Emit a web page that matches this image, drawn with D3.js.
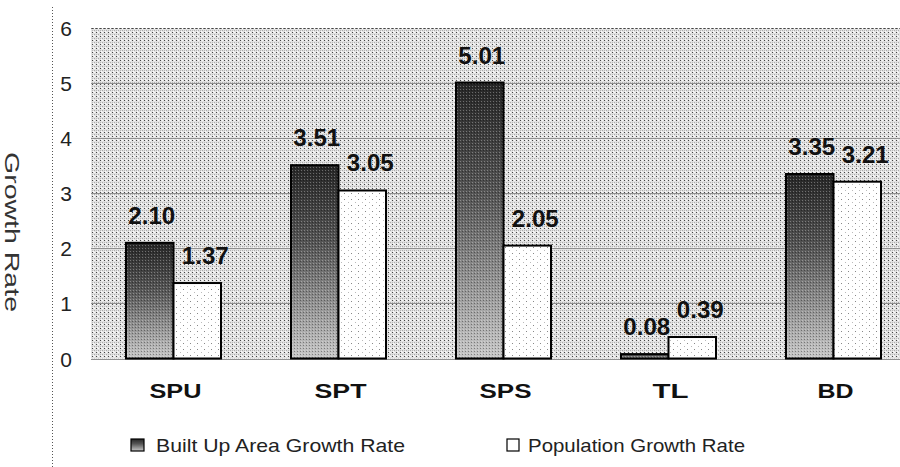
<!DOCTYPE html>
<html><head><meta charset="utf-8">
<script src="https://cdn.jsdelivr.net/npm/d3@7"></script>
<style>body{margin:0;background:#fff;} svg{display:block;font-family:"Liberation Sans",Arial,sans-serif;}</style>
</head><body>
<svg id="chart" width="900" height="467"></svg>
<script>
const categories = ["SPU","SPT","SPS","TL","BD"];
const builtUp = [2.10, 3.51, 5.01, 0.08, 3.35];
const population = [1.37, 3.05, 2.05, 0.39, 3.21];
const builtUpLabels = ["2.10","3.51","5.01","0.08","3.35"];
const populationLabels = ["1.37","3.05","2.05","0.39","3.21"];
const yTicks = [0,1,2,3,4,5,6];
const seriesNames = ["Built Up Area Growth Rate","Population Growth Rate"];

const svg = d3.select("#chart");
const defs = svg.append("defs");

// background stipple
const bg = defs.append("pattern").attr("id","bgpat").attr("width",4).attr("height",4).attr("patternUnits","userSpaceOnUse");
bg.append("rect").attr("width",4).attr("height",4).attr("fill","#e2e2e2");
bg.append("rect").attr("x",0).attr("y",0).attr("width",1).attr("height",1).attr("fill","#444");
bg.append("rect").attr("x",2).attr("y",2).attr("width",1).attr("height",1).attr("fill","#aaa");
bg.append("rect").attr("x",2).attr("y",0).attr("width",1).attr("height",1).attr("fill","#fafafa");
bg.append("rect").attr("x",1).attr("y",3).attr("width",1).attr("height",1).attr("fill","#fafafa");
bg.append("rect").attr("x",0).attr("y",2).attr("width",1).attr("height",1).attr("fill","#b8b8b8");

// dark bar gradient
const grad = defs.append("linearGradient").attr("id","darkgrad").attr("x1",0).attr("y1",0).attr("x2",0).attr("y2",1);
grad.append("stop").attr("offset","0%").attr("stop-color","#262626");
grad.append("stop").attr("offset","40%").attr("stop-color","#555");
grad.append("stop").attr("offset","100%").attr("stop-color","#c8c8c8");
const dk = defs.append("pattern").attr("id","darkpat").attr("width",3).attr("height",3).attr("patternUnits","userSpaceOnUse");
dk.append("rect").attr("x",0).attr("y",0).attr("width",1).attr("height",1).attr("fill","#000").attr("opacity",0.35);
dk.append("rect").attr("x",1).attr("y",2).attr("width",1).attr("height",1).attr("fill","#fff").attr("opacity",0.3);

// white bar sparse dots
const wp = defs.append("pattern").attr("id","whitepat").attr("width",7).attr("height",6).attr("patternUnits","userSpaceOnUse");
wp.append("rect").attr("width",7).attr("height",6).attr("fill","#fff");
wp.append("rect").attr("x",1).attr("y",1).attr("width",1).attr("height",1).attr("fill","#888");
wp.append("rect").attr("x",5).attr("y",4).attr("width",1).attr("height",1).attr("fill","#bbb");

const plotLeft = 91, plotTop = 28, plotBottom = 358.5;
const x = d3.scaleBand().domain(categories).range([plotLeft, plotLeft + 5*165]).padding(0);
const y = d3.scaleLinear().domain([0,6]).range([plotBottom, plotTop]);
const barW = 47.5;

// plot background
svg.append("rect").attr("x", plotLeft).attr("y", plotTop).attr("width", 900-plotLeft).attr("height", plotBottom-plotTop)
  .attr("fill","url(#bgpat)");

// gridlines
svg.append("g").selectAll("line").data(yTicks).join("line")
  .attr("x1", plotLeft).attr("x2", 900)
  .attr("y1", d => Math.round(y(d))+0.5).attr("y2", d => Math.round(y(d))+0.5)
  .attr("stroke", d => d===6 ? "#777" : "#909090").attr("stroke-width",1)
  .attr("stroke-dasharray", d => d===6 ? "1,1" : null);

// left dotted axis line
svg.append("line").attr("x1",52.5).attr("x2",52.5).attr("y1",7).attr("y2",467)
  .attr("stroke","#555").attr("stroke-dasharray","1,2");

// y tick labels via axis
const yAxis = d3.axisLeft(y).tickValues(yTicks).tickSize(0).tickPadding(0).tickFormat(d3.format("d"));
const ya = svg.append("g").attr("transform","translate(72,0)").call(yAxis);
ya.select(".domain").remove();
ya.selectAll("text").attr("font-size",21).attr("fill","#222").attr("font-family","'Liberation Sans',Arial,sans-serif")
  .attr("text-anchor","middle").attr("dx",-6).attr("dy","0.36em");

// y title
svg.append("text").attr("transform","translate(5,232) rotate(90)")
  .attr("text-anchor","middle").attr("font-size",21).attr("fill","#333")
  .attr("textLength",160).attr("lengthAdjust","spacingAndGlyphs")
  .text("Growth  Rate");

const cx = c => x(c) + x.bandwidth()/2;

// bars
const g = svg.append("g");
categories.forEach((c,i) => {
  const y0 = y(0);
  const yb = y(builtUp[i]);
  g.append("rect").attr("x", cx(c)-barW).attr("y", yb).attr("width", barW).attr("height", y0-yb)
    .attr("fill","url(#darkgrad)");
  g.append("rect").attr("x", cx(c)-barW).attr("y", yb).attr("width", barW).attr("height", y0-yb)
    .attr("fill","url(#darkpat)").attr("stroke","#000").attr("stroke-width",2);
  const yp = y(population[i]);
  g.append("rect").attr("x", cx(c)).attr("y", yp).attr("width", barW).attr("height", y0-yp)
    .attr("fill","url(#whitepat)").attr("stroke","#000").attr("stroke-width",2);
  g.append("text").attr("x", cx(c)-barW/2+2).attr("y", yb-19).attr("text-anchor","middle")
    .attr("font-size",23).attr("font-weight","bold").attr("fill","#111")
    .attr("textLength",47).attr("lengthAdjust","spacingAndGlyphs").text(builtUpLabels[i]);
  g.append("text").attr("x", cx(c)+barW/2+8).attr("y", yp-19).attr("text-anchor","middle")
    .attr("font-size",23).attr("font-weight","bold").attr("fill","#111")
    .attr("textLength",47).attr("lengthAdjust","spacingAndGlyphs").text(populationLabels[i]);
});

// category labels
const xAxis = d3.axisBottom(x).tickSize(0).tickPadding(0);
const xa = svg.append("g").attr("transform","translate(2,398)").call(xAxis);
xa.select(".domain").remove();
xa.selectAll("text").attr("font-size",20).attr("font-weight","bold").attr("fill","#111")
  .attr("font-family","'Liberation Sans',Arial,sans-serif").attr("dy",0)
  .attr("textLength", d => d.length===3 ? 52 : 36).attr("lengthAdjust","spacingAndGlyphs");

// legend
const leg = svg.append("g");
leg.append("rect").attr("x",131).attr("y",439).attr("width",13).attr("height",12)
  .attr("fill","url(#darkgrad)").attr("stroke","#000").attr("stroke-width",1.2);
leg.append("text").attr("x",156).attr("y",452).attr("font-size",19).attr("fill","#222")
  .attr("textLength",249).attr("lengthAdjust","spacingAndGlyphs").text(seriesNames[0]);
leg.append("rect").attr("x",507).attr("y",439).attr("width",12).attr("height",12)
  .attr("fill","#fff").attr("stroke","#000").attr("stroke-width",1.2);
leg.append("text").attr("x",528).attr("y",452).attr("font-size",19).attr("fill","#222")
  .attr("textLength",217).attr("lengthAdjust","spacingAndGlyphs").text(seriesNames[1]);
</script>
</body></html>
